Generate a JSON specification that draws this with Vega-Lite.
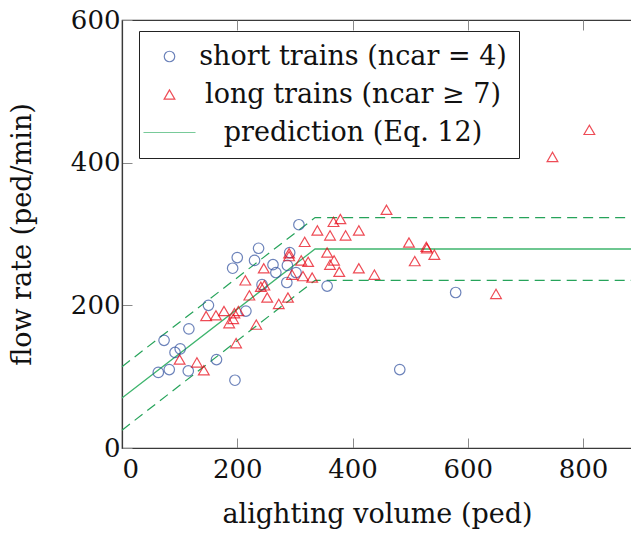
{
  "$schema": "https://vega.github.io/schema/vega-lite/v6.json",
  "width": 510,
  "height": 428,
  "autosize": {"type": "none"},
  "padding": {"left": 122, "top": 20, "right": 0, "bottom": 86},
  "config": {
    "font": "DejaVu Serif",
    "view": {"stroke": "#3a3a3a", "strokeWidth": 1.2},
    "axis": {
      "domainColor": "#3a3a3a",
      "domainWidth": 1.2,
      "tickColor": "#8a8a8a",
      "tickWidth": 1,
      "tickSize": -10,
      "grid": false,
      "labelFont": "DejaVu Serif",
      "titleFont": "DejaVu Serif",
      "labelFontSize": 26,
      "titleFontSize": 27,
      "titleFontWeight": "normal",
      "labelColor": "#111",
      "titleColor": "#111"
    }
  },
  "datasets": {
    "lines": [
      {"band": "prediction", "x": 0, "y": 70},
      {"band": "prediction", "x": 335, "y": 279},
      {"band": "prediction", "x": 885, "y": 279},
      {"band": "upper", "x": 0, "y": 114},
      {"band": "upper", "x": 335, "y": 323},
      {"band": "upper", "x": 885, "y": 323},
      {"band": "lower", "x": 0, "y": 25},
      {"band": "lower", "x": 335, "y": 235},
      {"band": "lower", "x": 885, "y": 235}
    ],
    "pts": [
      {"series": "short trains (ncar = 4)", "x": 63, "y": 106},
      {"series": "short trains (ncar = 4)", "x": 82, "y": 110},
      {"series": "short trains (ncar = 4)", "x": 115, "y": 108},
      {"series": "short trains (ncar = 4)", "x": 73, "y": 151},
      {"series": "short trains (ncar = 4)", "x": 92, "y": 134},
      {"series": "short trains (ncar = 4)", "x": 101, "y": 139},
      {"series": "short trains (ncar = 4)", "x": 116, "y": 167},
      {"series": "short trains (ncar = 4)", "x": 150, "y": 200},
      {"series": "short trains (ncar = 4)", "x": 164, "y": 124},
      {"series": "short trains (ncar = 4)", "x": 196, "y": 95},
      {"series": "short trains (ncar = 4)", "x": 215, "y": 192},
      {"series": "short trains (ncar = 4)", "x": 192, "y": 252},
      {"series": "short trains (ncar = 4)", "x": 200, "y": 267},
      {"series": "short trains (ncar = 4)", "x": 230, "y": 263},
      {"series": "short trains (ncar = 4)", "x": 237, "y": 280},
      {"series": "short trains (ncar = 4)", "x": 243, "y": 229},
      {"series": "short trains (ncar = 4)", "x": 262, "y": 257},
      {"series": "short trains (ncar = 4)", "x": 267, "y": 246},
      {"series": "short trains (ncar = 4)", "x": 286, "y": 232},
      {"series": "short trains (ncar = 4)", "x": 287, "y": 256},
      {"series": "short trains (ncar = 4)", "x": 291, "y": 274},
      {"series": "short trains (ncar = 4)", "x": 302, "y": 246},
      {"series": "short trains (ncar = 4)", "x": 307, "y": 313},
      {"series": "short trains (ncar = 4)", "x": 356, "y": 227},
      {"series": "short trains (ncar = 4)", "x": 482, "y": 110},
      {"series": "short trains (ncar = 4)", "x": 579, "y": 218},
      {"series": "long trains (ncar ≥ 7)", "x": 100, "y": 124},
      {"series": "long trains (ncar ≥ 7)", "x": 130, "y": 120},
      {"series": "long trains (ncar ≥ 7)", "x": 142, "y": 109},
      {"series": "long trains (ncar ≥ 7)", "x": 146, "y": 185},
      {"series": "long trains (ncar ≥ 7)", "x": 163, "y": 186},
      {"series": "long trains (ncar ≥ 7)", "x": 177, "y": 192},
      {"series": "long trains (ncar ≥ 7)", "x": 186, "y": 175},
      {"series": "long trains (ncar ≥ 7)", "x": 193, "y": 181},
      {"series": "long trains (ncar ≥ 7)", "x": 198, "y": 147},
      {"series": "long trains (ncar ≥ 7)", "x": 195, "y": 189},
      {"series": "long trains (ncar ≥ 7)", "x": 202, "y": 192},
      {"series": "long trains (ncar ≥ 7)", "x": 214, "y": 235},
      {"series": "long trains (ncar ≥ 7)", "x": 221, "y": 214},
      {"series": "long trains (ncar ≥ 7)", "x": 233, "y": 173},
      {"series": "long trains (ncar ≥ 7)", "x": 246, "y": 252},
      {"series": "long trains (ncar ≥ 7)", "x": 241, "y": 226},
      {"series": "long trains (ncar ≥ 7)", "x": 247, "y": 228},
      {"series": "long trains (ncar ≥ 7)", "x": 252, "y": 211},
      {"series": "long trains (ncar ≥ 7)", "x": 272, "y": 202},
      {"series": "long trains (ncar ≥ 7)", "x": 288, "y": 211},
      {"series": "long trains (ncar ≥ 7)", "x": 290, "y": 273},
      {"series": "long trains (ncar ≥ 7)", "x": 290, "y": 269},
      {"series": "long trains (ncar ≥ 7)", "x": 311, "y": 263},
      {"series": "long trains (ncar ≥ 7)", "x": 323, "y": 261},
      {"series": "long trains (ncar ≥ 7)", "x": 295, "y": 243},
      {"series": "long trains (ncar ≥ 7)", "x": 314, "y": 241},
      {"series": "long trains (ncar ≥ 7)", "x": 330, "y": 239},
      {"series": "long trains (ncar ≥ 7)", "x": 317, "y": 289},
      {"series": "long trains (ncar ≥ 7)", "x": 339, "y": 305},
      {"series": "long trains (ncar ≥ 7)", "x": 356, "y": 274},
      {"series": "long trains (ncar ≥ 7)", "x": 361, "y": 298},
      {"series": "long trains (ncar ≥ 7)", "x": 367, "y": 317},
      {"series": "long trains (ncar ≥ 7)", "x": 379, "y": 321},
      {"series": "long trains (ncar ≥ 7)", "x": 368, "y": 263},
      {"series": "long trains (ncar ≥ 7)", "x": 361, "y": 257},
      {"series": "long trains (ncar ≥ 7)", "x": 377, "y": 247},
      {"series": "long trains (ncar ≥ 7)", "x": 388, "y": 298},
      {"series": "long trains (ncar ≥ 7)", "x": 411, "y": 305},
      {"series": "long trains (ncar ≥ 7)", "x": 411, "y": 252},
      {"series": "long trains (ncar ≥ 7)", "x": 438, "y": 243},
      {"series": "long trains (ncar ≥ 7)", "x": 459, "y": 334},
      {"series": "long trains (ncar ≥ 7)", "x": 498, "y": 288},
      {"series": "long trains (ncar ≥ 7)", "x": 508, "y": 262},
      {"series": "long trains (ncar ≥ 7)", "x": 528, "y": 282},
      {"series": "long trains (ncar ≥ 7)", "x": 529, "y": 280},
      {"series": "long trains (ncar ≥ 7)", "x": 542, "y": 271},
      {"series": "long trains (ncar ≥ 7)", "x": 649, "y": 216},
      {"series": "long trains (ncar ≥ 7)", "x": 747, "y": 408},
      {"series": "long trains (ncar ≥ 7)", "x": 811, "y": 446}
    ]
  },
  "resolve": {"axis": {"x": "independent"}},
  "layer": [
    {
      "data": {"name": "lines"},
      "transform": [{"filter": "datum.band !== 'prediction'"}],
      "mark": {"type": "line", "color": "#26a35a", "strokeWidth": 1.2, "strokeDash": [10, 6]},
      "encoding": {
        "x": {"field": "x", "type": "quantitative", "scale": {"domain": [0, 885]}, "axis": null},
        "y": {"field": "y", "type": "quantitative", "scale": {"domain": [0, 600]}, "axis": {"values": [0, 200, 400, 600], "title": "flow rate (ped/min)", "labelPadding": 12, "titlePadding": 34}},
        "detail": {"field": "band", "type": "nominal"}
      }
    },
    {
      "data": {"name": "lines"},
      "transform": [{"filter": "datum.band === 'prediction'"}],
      "mark": {"type": "line", "color": "#3fb56e", "strokeWidth": 1.3},
      "encoding": {
        "x": {"field": "x", "type": "quantitative", "scale": {"domain": [0, 885]}, "axis": {"orient": "top", "labels": false, "domain": false, "title": null, "values": [0, 200, 400, 600, 800]}},
        "y": {"field": "y", "type": "quantitative", "scale": {"domain": [0, 600]}, "axis": {"values": [0, 200, 400, 600], "title": "flow rate (ped/min)", "labelPadding": 12, "titlePadding": 34}}
      }
    },
    {
      "data": {"name": "pts"},
      "mark": {"type": "point", "filled": false, "strokeWidth": 1.2},
      "encoding": {
        "x": {"field": "x", "type": "quantitative", "scale": {"domain": [0, 885]}, "axis": {"values": [0, 200, 400, 600, 800], "title": "alighting volume (ped)", "labelPadding": 18, "titlePadding": 19}},
        "y": {"field": "y", "type": "quantitative", "scale": {"domain": [0, 600]}, "axis": {"values": [0, 200, 400, 600], "title": "flow rate (ped/min)", "labelPadding": 12, "titlePadding": 34}},
        "color": {
          "field": "series", "type": "nominal",
          "scale": {"domain": ["short trains (ncar = 4)", "long trains (ncar ≥ 7)", "prediction (Eq. 12)"], "range": ["#2f4f9e", "#e8000f", "#3fb56e"]},
          "legend": {
            "title": null, "orient": "none", "legendX": 17, "legendY": 11,
            "padding": 12, "symbolOffset": 5, "rowPadding": 10,
            "strokeColor": "#222", "fillColor": "white",
            "labelFont": "DejaVu Serif", "labelFontSize": 27, "labelColor": "#111",
            "labelAlign": "center", "labelOffset": 170, "labelLimit": 400,
            "symbolStrokeWidth": 1.2
          }
        },
        "shape": {
          "field": "series", "type": "nominal",
          "scale": {"domain": ["short trains (ncar = 4)", "long trains (ncar ≥ 7)", "prediction (Eq. 12)"], "range": ["circle", "triangle-up", "M-4.75,0L4.75,0"]}
        },
        "size": {
          "field": "series", "type": "nominal",
          "scale": {"domain": ["short trains (ncar = 4)", "long trains (ncar ≥ 7)", "prediction (Eq. 12)"], "range": [110, 120, 90]},
          "legend": null
        }
      }
    }
  ]
}
